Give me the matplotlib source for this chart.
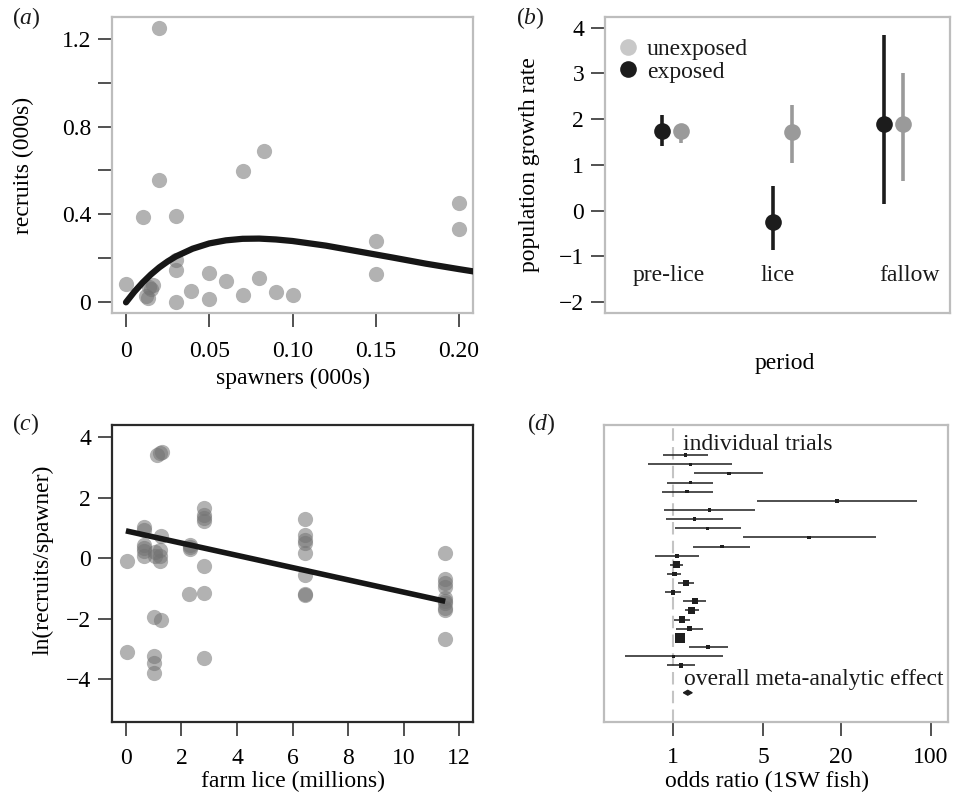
import matplotlib
matplotlib.use("Agg")
import matplotlib.pyplot as plt
from matplotlib.lines import Line2D
from matplotlib.ticker import FixedLocator, NullLocator, FixedFormatter
import numpy as np

plt.rcParams['font.family'] = ['Liberation Serif', 'DejaVu Serif']
plt.rcParams['mathtext.fontset'] = 'custom'
plt.rcParams['mathtext.rm'] = 'Liberation Serif'
plt.rcParams['mathtext.it'] = 'Liberation Serif:italic'
plt.rcParams['font.size'] = 17
plt.rcParams['text.color'] = '#1a1a1a'

# (a) spawners vs recruits (000s)
spawners = [0.0, 0.010, 0.012, 0.013, 0.014, 0.015, 0.016, 0.020, 0.020,
            0.030, 0.030, 0.030, 0.030, 0.039, 0.050, 0.050, 0.060, 0.070,
            0.070, 0.080, 0.083, 0.090, 0.100, 0.150, 0.150, 0.200, 0.200]
recruits = [0.085, 0.388, 0.030, 0.020, 0.070, 0.060, 0.080, 1.248, 0.555,
            0.394, 0.191, 0.149, 0.003, 0.052, 0.135, 0.015, 0.099, 0.599,
            0.035, 0.109, 0.687, 0.047, 0.035, 0.281, 0.130, 0.454, 0.334]
# fitted stock-recruit curve
curve_s = [0.0, 0.005, 0.01, 0.015, 0.02, 0.025, 0.03, 0.04, 0.05, 0.06, 0.07,
           0.08, 0.09, 0.10, 0.12, 0.14, 0.16, 0.18, 0.20, 0.21]
curve_r = [0.0, 0.048, 0.090, 0.127, 0.159, 0.186, 0.209, 0.244, 0.268, 0.282,
           0.289, 0.290, 0.286, 0.279, 0.258, 0.231, 0.204, 0.176, 0.151, 0.139]

# (b) population growth rate by period
periods = ['pre-lice', 'lice', 'fallow']
exp_mean = [1.75, -0.25, 1.90]
exp_lo = [1.41, -0.87, 0.15]
exp_hi = [2.10, 0.53, 3.83]
unexp_mean = [1.75, 1.73, 1.90]
unexp_lo = [1.48, 1.04, 0.64]
unexp_hi = [1.88, 2.30, 3.02]

# (c) farm lice vs ln(recruits/spawner)
farm_lice = [0.05, 0.05,
             0.65, 0.65, 0.65, 0.65, 0.65, 0.65,
             1.0, 1.0, 1.0, 1.0, 1.05, 1.05,
             1.12, 1.30, 1.21, 1.28, 1.23, 1.23, 1.23, 1.26,
             2.3, 2.3, 2.32, 2.29,
             2.83, 2.83, 2.83, 2.83, 2.83, 2.83, 2.83,
             6.45, 6.45, 6.45, 6.45, 6.45, 6.45, 6.45, 6.45,
             11.5, 11.5, 11.5, 11.5, 11.5, 11.5, 11.5, 11.5, 11.5, 11.5]
log_rps = [-0.10, -3.09,
           1.05, 0.95, 0.45, 0.35, 0.25, 0.07,
           -1.93, -3.23, -3.47, -3.78, 0.20, 0.07,
           3.42, 3.53, 3.47, 0.73, 0.29, 0.07, -0.10, -2.05,
           0.45, 0.38, 0.32, -1.18,
           1.66, 1.44, 1.33, 1.22, -0.24, -1.14, -3.31,
           1.30, 0.78, 0.60, 0.50, 0.18, -0.55, -1.18, -1.22,
           0.18, -0.68, -0.81, -0.95, -1.31, -1.40, -1.47, -1.64, -1.70, -2.68]
fit_lice = [0.0, 11.5]
fit_rps = [0.91, -1.42]

# (d) odds ratios of individual trials (1SW fish)
or_mid = [1.25, 1.36, 2.71, 1.36, 1.28, 18.7, 1.91, 1.46, 1.86, 11.4, 2.39, 1.07,
          1.06, 1.02, 1.26, 1.00, 1.47, 1.40, 1.17, 1.34, 1.13, 1.88, 1.00, 1.15]
or_lo = [0.83, 0.64, 1.46, 0.90, 0.82, 4.52, 0.85, 0.88, 1.03, 3.52, 1.44, 0.72,
         0.95, 0.89, 1.09, 0.87, 1.20, 1.24, 1.02, 1.06, 1.05, 1.34, 0.42, 0.90]
or_hi = [1.88, 2.87, 5.03, 2.06, 2.03, 78.0, 4.33, 2.42, 3.39, 37.5, 3.96, 1.58,
         1.19, 1.16, 1.46, 1.16, 1.80, 1.59, 1.36, 1.71, 1.22, 2.66, 2.42, 1.47]
trial_weight = [1, 1, 1, 1, 1, 1, 1, 1, 1, 1, 1, 1.2,
                4, 2, 3.5, 2, 3, 4, 3.5, 2, 10, 1.3, 0.8, 1.8]
overall_lo, overall_mid, overall_hi = 1.20, 1.30, 1.41

fig = plt.figure(figsize=(9.55, 7.96), dpi=100)

dot_col = '#737373'
tick_kw = dict(direction='out', length=10, width=1.2, color='#333333', labelsize=17)


def frame(ax, col):
    for s in ax.spines.values():
        s.set_color(col)
        s.set_linewidth(1.6)


# ---- (a)
ax = fig.add_axes([0.1173, 0.6068, 0.3780, 0.3719])
ax.scatter(spawners, recruits, s=120, color=dot_col, alpha=0.55, linewidths=0, zorder=2)
ax.plot(curve_s, curve_r, color='#161616', lw=4.5, solid_capstyle='round', zorder=3)
ax.set_xlim(-0.0084, 0.2084)
ax.set_ylim(-0.0485, 1.2985)
ax.set_xticks([0, 0.05, 0.10, 0.15, 0.20], labels=['0', '0.05', '0.10', '0.15', '0.20'])
ax.set_yticks([0, 0.2, 0.4, 0.6, 0.8, 1.0, 1.2], labels=['0', '', '0.4', '', '0.8', '', '1.2'])
ax.tick_params(axis='x', pad=10, **tick_kw)
ax.tick_params(axis='y', pad=5, **tick_kw)
frame(ax, '#bdbdbd')
ax.set_xlabel('spawners (000s)')
ax.set_ylabel('recruits (000s)')
ax.xaxis.set_label_coords(0.5, -0.185)
ax.yaxis.set_label_coords(-0.215, 0.5)

# ---- (b)
ax = fig.add_axes([0.6335, 0.6068, 0.3613, 0.3719])
xc = np.arange(1, len(periods) + 1)
off = 0.083
for xs, m, lo, hi, col in [(xc + off, unexp_mean, unexp_lo, unexp_hi, '#9a9a9a'),
                           (xc - off, exp_mean, exp_lo, exp_hi, '#1c1c1c')]:
    ax.vlines(xs, lo, hi, color=col, lw=2.6, zorder=2)
    ax.plot(xs, m, 'o', ms=12, color=col, mec='none', zorder=3)
label_x = [0.976, 1.96, 3.14]
for lx, name in zip(label_x, periods):
    ax.text(lx, -1.42, name, ha='center', va='center', fontsize=17)
ax.set_xlim(0.40, 3.51)
ax.set_ylim(-2.238, 4.235)
ax.set_xticks([])
ax.set_yticks(range(-2, 5))
ax.tick_params(axis='y', pad=5, **tick_kw)
frame(ax, '#bdbdbd')
ax.set_xlabel('period')
ax.set_ylabel('population growth rate')
ax.xaxis.set_label_coords(0.52, -0.135)
ax.yaxis.set_label_coords(-0.188, 0.5)
handles = [Line2D([], [], ls='none', marker='o', ms=12, color='#c8c8c8', mec='none'),
           Line2D([], [], ls='none', marker='o', ms=12, color='#1c1c1c', mec='none')]
ax.legend(handles, ['unexposed', 'exposed'], loc='upper left', frameon=False,
          bbox_to_anchor=(-0.005, 0.975), handlelength=0.9, handletextpad=0.35,
          labelspacing=0.05, borderaxespad=0.2, fontsize=17)

# ---- (c)
ax = fig.add_axes([0.1173, 0.0930, 0.3780, 0.3731])
ax.scatter(farm_lice, log_rps, s=120, color=dot_col, alpha=0.55, linewidths=0, zorder=2)
ax.plot(fit_lice, fit_rps, color='#161616', lw=4, solid_capstyle='butt', zorder=3)
ax.set_xlim(-0.5, 12.5)
ax.set_ylim(-5.41, 4.41)
ax.set_xticks(range(0, 13, 2))
ax.set_yticks([-4, -2, 0, 2, 4])
ax.tick_params(axis='x', pad=9, **tick_kw)
ax.tick_params(axis='y', pad=5, **tick_kw)
frame(ax, '#2a2a2a')
ax.set_xlabel('farm lice (millions)')
ax.set_ylabel('ln(recruits/spawner)')
ax.xaxis.set_label_coords(0.5, -0.166)
ax.yaxis.set_label_coords(-0.163, 0.545)

# ---- (d)
ax = fig.add_axes([0.6325, 0.0930, 0.3602, 0.3731])
rows = np.arange(1, len(or_mid) + 1)
ax.axvline(1, color='#c4c4c4', lw=1.5, ls=(0, (6, 3)), zorder=1)
ax.hlines(rows, or_lo, or_hi, color='#1e1e1e', lw=1.1, zorder=2)
ax.scatter(or_mid, rows, marker='s', s=np.array(trial_weight) * 6, color='#1e1e1e',
           linewidths=0, zorder=3)
ov_row = len(or_mid) + 3
ax.fill([overall_lo, overall_mid, overall_hi, overall_mid],
        [ov_row, ov_row - 0.28, ov_row, ov_row + 0.28], color='#1e1e1e', lw=0.8,
        edgecolor='#1e1e1e', zorder=3)
ax.text(1.2, -0.15, 'individual trials', ha='left', va='center', fontsize=17)
ax.text(1.21, 25.6, 'overall meta-analytic effect', ha='left', va='center', fontsize=17)
ax.set_xscale('log')
ax.set_xlim(0.291, 136.5)
ax.set_ylim(30.2, -2.3)
ax.xaxis.set_major_locator(FixedLocator([1, 5, 20, 100]))
ax.xaxis.set_major_formatter(FixedFormatter(['1', '5', '20', '100']))
ax.xaxis.set_minor_locator(NullLocator())
ax.set_yticks([])
ax.tick_params(axis='x', pad=8, **tick_kw)
frame(ax, '#bdbdbd')
ax.set_xlabel('odds ratio (1SW fish)')
ax.xaxis.set_label_coords(0.474, -0.166)

# panel letters
fig.text(0.0125, 0.977, r'($\it{a}$)', ha='left', va='center', fontsize=17)
fig.text(0.540, 0.977, r'($\it{b}$)', ha='left', va='center', fontsize=17)
fig.text(0.0125, 0.467, r'($\it{c}$)', ha='left', va='center', fontsize=17)
fig.text(0.552, 0.467, r'($\it{d}$)', ha='left', va='center', fontsize=17)

fig.savefig('out.png', dpi=100)
